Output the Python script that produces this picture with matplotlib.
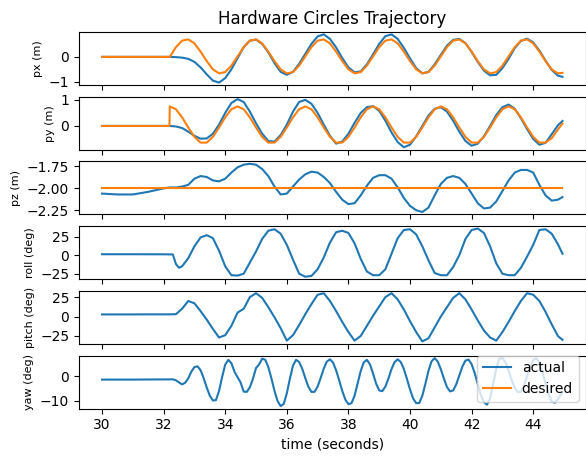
import matplotlib
matplotlib.use('Agg')
import matplotlib.pyplot as plt

# sample times (s) for px, py, pz, pitch
t = [30.0, 30.5, 31.0, 31.5, 32.0, 32.2, 32.4, 32.6, 32.8,
     33.0, 33.2, 33.4, 33.6, 33.8, 34.0, 34.2, 34.4, 34.6, 34.8,
     35.0, 35.2, 35.4, 35.6, 35.8, 36.0, 36.2, 36.4, 36.6, 36.8,
     37.0, 37.2, 37.4, 37.6, 37.8, 38.0, 38.2, 38.4, 38.6, 38.8,
     39.0, 39.2, 39.4, 39.6, 39.8, 40.0, 40.2, 40.4, 40.6, 40.8,
     41.0, 41.2, 41.4, 41.6, 41.8, 42.0, 42.2, 42.4, 42.6, 42.8,
     43.0, 43.2, 43.4, 43.6, 43.8, 44.0, 44.2, 44.4, 44.6, 44.8, 44.95]
# desired trajectory times (step at 32.2 s)
t_des = [30.0, 30.5, 31.0, 31.5, 32.19, 32.2, 32.4, 32.6, 32.8,
         33.0, 33.2, 33.4, 33.6, 33.8, 34.0, 34.2, 34.4, 34.6, 34.8,
         35.0, 35.2, 35.4, 35.6, 35.8, 36.0, 36.2, 36.4, 36.6, 36.8,
         37.0, 37.2, 37.4, 37.6, 37.8, 38.0, 38.2, 38.4, 38.6, 38.8,
         39.0, 39.2, 39.4, 39.6, 39.8, 40.0, 40.2, 40.4, 40.6, 40.8,
         41.0, 41.2, 41.4, 41.6, 41.8, 42.0, 42.2, 42.4, 42.6, 42.8,
         43.0, 43.2, 43.4, 43.6, 43.8, 44.0, 44.2, 44.4, 44.6, 44.8, 44.95]

px_act = [0.0, 0.0, 0.0, 0.0, 0.0, 0.0, -0.01, -0.03, -0.08,
          -0.2, -0.42, -0.7, -0.95, -1.03, -0.85, -0.5, -0.05, 0.39, 0.65,
          0.69, 0.52, 0.18, -0.25, -0.6, -0.72, -0.6, -0.28, 0.12, 0.52,
          0.82, 0.9, 0.72, 0.38, -0.05, -0.42, -0.62, -0.58, -0.3, 0.1,
          0.52, 0.83, 0.9, 0.72, 0.36, -0.06, -0.45, -0.66, -0.6, -0.3,
          0.08, 0.45, 0.68, 0.72, 0.55, 0.2, -0.2, -0.55, -0.74, -0.72,
          -0.45, -0.08, 0.35, 0.64, 0.73, 0.58, 0.25, -0.15, -0.52, -0.75, -0.8]
px_des = [0.0, 0.0, 0.0, 0.0, 0.0, 0.0, 0.39, 0.65, 0.70,
          0.54, 0.21, -0.17, -0.50, -0.66, -0.61, -0.35, 0.02, 0.39, 0.65,
          0.70, 0.54, 0.21, -0.17, -0.50, -0.66, -0.61, -0.35, 0.02, 0.39,
          0.65, 0.70, 0.54, 0.21, -0.17, -0.50, -0.66, -0.61, -0.35, 0.02,
          0.39, 0.65, 0.70, 0.54, 0.21, -0.17, -0.50, -0.66, -0.61, -0.35,
          0.02, 0.39, 0.65, 0.70, 0.54, 0.21, -0.17, -0.50, -0.66, -0.61,
          -0.35, 0.02, 0.39, 0.65, 0.70, 0.54, 0.21, -0.17, -0.50, -0.66, -0.64]

py_act = [0.0, 0.0, 0.0, 0.0, 0.0, 0.0, -0.02, -0.08, -0.22,
          -0.38, -0.49, -0.48, -0.3, 0.05, 0.5, 0.88, 1.03, 0.92, 0.55,
          0.1, -0.3, -0.58, -0.6, -0.35, 0.05, 0.55, 0.92, 1.0, 0.85,
          0.5, 0.05, -0.38, -0.68, -0.6, -0.3, 0.12, 0.5, 0.72, 0.76,
          0.58, 0.2, -0.25, -0.62, -0.82, -0.72, -0.4, 0.0, 0.4, 0.66,
          0.72, 0.55, 0.2, -0.22, -0.58, -0.76, -0.68, -0.4, 0.0, 0.42,
          0.72, 0.82, 0.66, 0.3, -0.12, -0.5, -0.72, -0.65, -0.32, 0.02, 0.19]
py_des = [0.0, 0.0, 0.0, 0.0, 0.0, 0.75, 0.64, 0.33, -0.06,
          -0.42, -0.64, -0.64, -0.42, -0.06, 0.33, 0.64, 0.75, 0.64, 0.33,
          -0.06, -0.42, -0.64, -0.64, -0.42, -0.06, 0.33, 0.64, 0.75, 0.64,
          0.33, -0.06, -0.42, -0.64, -0.64, -0.42, -0.06, 0.33, 0.64, 0.75,
          0.64, 0.33, -0.06, -0.42, -0.64, -0.64, -0.42, -0.06, 0.33, 0.64,
          0.75, 0.64, 0.33, -0.06, -0.42, -0.64, -0.64, -0.42, -0.06, 0.33,
          0.64, 0.75, 0.64, 0.33, -0.06, -0.42, -0.64, -0.64, -0.47, -0.14, 0.09]

pz_act = [-2.06, -2.07, -2.07, -2.04, -2.0, -1.99, -1.99, -1.98, -1.96,
          -1.89, -1.86, -1.87, -1.91, -1.92, -1.89, -1.82, -1.76, -1.73, -1.72,
          -1.73, -1.78, -1.86, -1.98, -2.07, -2.06, -1.98, -1.9, -1.84, -1.81,
          -1.82, -1.87, -1.94, -2.04, -2.13, -2.18, -2.17, -2.08, -1.97, -1.88,
          -1.85, -1.85, -1.89, -1.99, -2.11, -2.2, -2.25, -2.27, -2.22, -2.08,
          -1.95, -1.88, -1.86, -1.88, -1.95, -2.06, -2.17, -2.23, -2.22, -2.15,
          -2.03, -1.91, -1.82, -1.79, -1.79, -1.82, -1.96, -2.08, -2.14, -2.13, -2.1]
pz_des_t = [30.0, 44.95]
pz_des = [-2.0, -2.0]

pitch = [2.7, 2.7, 2.7, 2.8, 2.8, 2.8, 3.0, 10, 20,
         17, 7, -4, -16, -27, -24, -12, 5, 10, 25,
         30, 24, 12, -1, -15, -31, -24, -11, 3, 16,
         28, 30, 20, 7, -7, -20, -31, -25, -12, 1,
         13, 25, 30, 22, 9, -6, -20, -32, -28, -14,
         0, 12, 24, 30, 22, 9, -5, -18, -27, -31,
         -20, -7, 7, 20, 30, 28, 20, 6, -10, -25, -30]

t_roll = [30.0, 31.0, 32.0, 32.3, 32.4, 32.5, 32.6, 32.8,
          33.0, 33.2, 33.4, 33.6, 33.8, 34.0, 34.2, 34.4, 34.6, 34.8,
          35.0, 35.2, 35.4, 35.6, 35.8, 36.0, 36.2, 36.4, 36.6, 36.8,
          37.0, 37.2, 37.4, 37.6, 37.8, 38.0, 38.2, 38.4, 38.6, 38.8,
          39.0, 39.2, 39.4, 39.6, 39.8, 40.0, 40.2, 40.4, 40.6, 40.8,
          41.0, 41.2, 41.4, 41.6, 41.8, 42.0, 42.2, 42.4, 42.6, 42.8,
          43.0, 43.2, 43.4, 43.6, 43.8, 44.0, 44.2, 44.4, 44.6, 44.8, 44.95]
roll = [1.3, 1.3, 1.2, 1.0, -12, -17, -15, -4,
        12, 24, 27, 23, 6, -15, -27, -27.5, -25, -10,
        5, 22, 33, 35, 29, 14, -6, -25, -29, -28,
        -19, -3, 17, 31, 33, 30, 16, -5, -22, -27,
        -27, -19, 2, 23, 34, 35, 28, 12, -7, -24,
        -27, -27, -16, 0, 22, 34, 36, 30, 12, -11,
        -25, -27, -27, -17, -2, 14, 34, 35, 29, 15, 2]

t_yaw = [30.0, 31.0, 32.0, 32.3, 32.4, 32.5, 32.6, 32.7, 32.8, 32.9,
         33.0, 33.1, 33.2, 33.3, 33.4, 33.5, 33.6, 33.7, 33.8, 33.9,
         34.0, 34.1, 34.2, 34.3, 34.4, 34.5, 34.6, 34.7, 34.8, 34.9,
         35.0, 35.1, 35.2, 35.3, 35.4, 35.5, 35.6, 35.7, 35.8, 35.9,
         36.0, 36.1, 36.2, 36.3, 36.4, 36.5, 36.6, 36.7, 36.8, 36.9,
         37.0, 37.1, 37.2, 37.3, 37.4, 37.5, 37.6, 37.7, 37.8, 37.9,
         38.0, 38.1, 38.2, 38.3, 38.4, 38.5, 38.6, 38.7, 38.8, 38.9,
         39.0, 39.1, 39.2, 39.3, 39.4, 39.5, 39.6, 39.7, 39.8, 39.9,
         40.0, 40.1, 40.2, 40.3, 40.4, 40.5, 40.6, 40.7, 40.8, 40.9,
         41.0, 41.1, 41.2, 41.3, 41.4, 41.5, 41.6, 41.7, 41.8, 41.9,
         42.0, 42.1, 42.2, 42.3, 42.4, 42.5, 42.6, 42.7, 42.8, 42.9,
         43.0, 43.1, 43.2, 43.3, 43.4, 43.5, 43.6, 43.7, 43.8, 43.9,
         44.0, 44.1, 44.2, 44.3, 44.4, 44.5, 44.6, 44.7, 44.8, 44.9, 44.95]
yaw = [-1.3, -1.3, -1.2, -1.2, -1.6, -2.5, -3.3, -2.6, -0.8, 2.0,
       3.9, 4.2, 2.6, -0.7, -4.6, -8.0, -10.0, -9.8, -6.0, -0.2,
       4.9, 6.9, 5.5, 2.0, -0.3, -2.5, -6.3, -6.4, -4.5, -1.0,
       3.5, 5.0, 7.4, 6.9, 3.9, -0.8, -6.0, -10.2, -12.3, -11.4,
       -7.0, -0.9, 4.5, 6.9, 6.0, 3.2, -0.7, -4.3, -6.4, -6.4,
       -4.2, -0.6, 3.3, 6.2, 7.1, 5.8, 2.6, -1.6, -6.0, -9.6,
       -11.5, -11.1, -8.0, -2.9, 2.3, 5.9, 6.9, 5.0, 1.2, -3.0,
       -5.8, -6.1, -4.2, -0.8, 3.1, 6.0, 7.1, 6.0, 3.1, -1.0,
       -5.4, -9.1, -11.1, -11.0, -8.0, -3.0, 2.4, 6.3, 7.6, 6.2,
       3.0, -0.9, -4.4, -6.2, -5.8, -3.3, 0.4, 4.1, 6.6, 7.0,
       5.1, 1.4, -3.2, -7.7, -10.7, -11.7, -9.1, -3.2, 3.3, 7.4,
       7.7, 5.8, 2.4, -1.5, -4.7, -6.5, -6.3, -3.8, 0.0, 4.0,
       6.8, 7.6, 5.8, 1.9, -2.9, -7.4, -10.4, -10.9, -9.5, -7.5, -6.7]

ylabels = ['px (m)', 'py (m)', 'pz (m)', 'roll (deg)', 'pitch (deg)', 'yaw (deg)']
yticks = [[-1, 0], [0, 1], [-2.25, -2.0, -1.75], [-25, 0, 25], [-25, 0, 25], [-10, 0]]
xticks = [30, 32, 34, 36, 38, 40, 42, 44]

fig, axs = plt.subplots(6, 1, sharex=True, figsize=(5.86, 4.57), dpi=100)
tops = [32, 96.7, 161.4, 226.1, 290.8, 355.5]
for ax, top in zip(axs, tops):
    ax.set_position([79 / 586, 1 - (top + 53) / 457, 506.5 / 586, 53 / 457])

la, = axs[0].plot(t, px_act, label='actual')
ld, = axs[0].plot(t_des, px_des, label='desired')
axs[1].plot(t, py_act)
axs[1].plot(t_des, py_des)
axs[2].plot(t, pz_act)
axs[2].plot(pz_des_t, pz_des)
axs[3].plot(t_roll, roll)
axs[4].plot(t, pitch)
axs[5].plot(t_yaw, yaw)

for ax, lab, yt in zip(axs, ylabels, yticks):
    ax.set_ylabel(lab, fontsize=8)
    ax.set_yticks(yt)
axs[-1].set_xticks(xticks)

axs[0].set_title('Hardware Circles Trajectory')
axs[-1].set_xlabel('time (seconds)')
axs[-1].legend(handles=[la, ld], loc='lower right')

plt.savefig('out.png', dpi=100)
